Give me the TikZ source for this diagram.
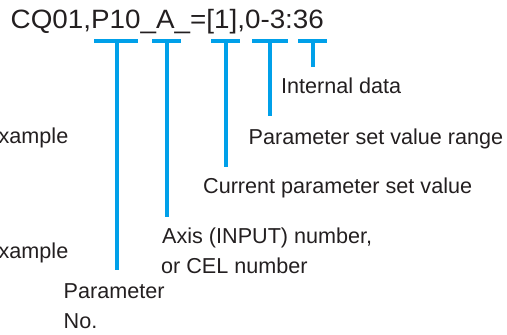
\documentclass[tikz,border=0pt]{standalone}
\usepackage{fontspec}
\setmainfont{Liberation Sans}
\definecolor{lineblue}{HTML}{00A0E9}
\definecolor{txt}{HTML}{231F20}
\begin{document}
\begin{tikzpicture}[x=1pt,y=-1pt,
  lbl/.style={inner sep=0pt, anchor=base west, font=\fontsize{21.6}{30}\selectfont, text=txt},
  lble/.style={lbl, anchor=base east},
  tbar/.style={draw=lineblue, line width=3.8pt},
]
\useasboundingbox (0,0) rectangle (507,335);
% top code string
\node[lbl, font=\fontsize{26.5}{30}\selectfont] (code) at (10.5,28) {\scalebox{1.05}[1]{CQ01,P10\_A\_=[1],0-3:36}};

% labels
\node[lbl] (internal) at (281,93) {Internal data};
\node[lbl] (range) at (248.5,144) {Parameter set value range};
\node[lbl] (current) at (203,193) {Current parameter set value};
\node[lbl] (axis1) at (162,243) {Axis (INPUT) number,};
\node[lbl] (axis2) at (161,273) {or CEL number};
\node[lbl] (param1) at (63.5,298) {Parameter};
\node[lbl] (param2) at (63.5,328) {No.};
\node[lble] (ex1) at (68.5,143) {xample};
\node[lble] (ex2) at (68.5,258) {xample};

% T markers
\coordinate (b1l) at (94,41);  \coordinate (b1r) at (138,41); \coordinate (s1) at (117,41); \coordinate (e1) at (117,270);
\coordinate (b2l) at (152,41); \coordinate (b2r) at (181,41); \coordinate (s2) at (167,41); \coordinate (e2) at (167,217);
\coordinate (b3l) at (211,41); \coordinate (b3r) at (240,41); \coordinate (s3) at (226,41); \coordinate (e3) at (226,167);
\coordinate (b4l) at (252,41); \coordinate (b4r) at (288,41); \coordinate (s4) at (270,41); \coordinate (e4) at (270,116);
\coordinate (b5l) at (298,41); \coordinate (b5r) at (327,41); \coordinate (s5) at (313,41); \coordinate (e5) at (313,67);

\foreach \i in {1,...,5}{
  \draw[tbar] (b\i l) -- (b\i r);
  \draw[tbar] (s\i) -- (e\i);
}
\end{tikzpicture}
\end{document}
